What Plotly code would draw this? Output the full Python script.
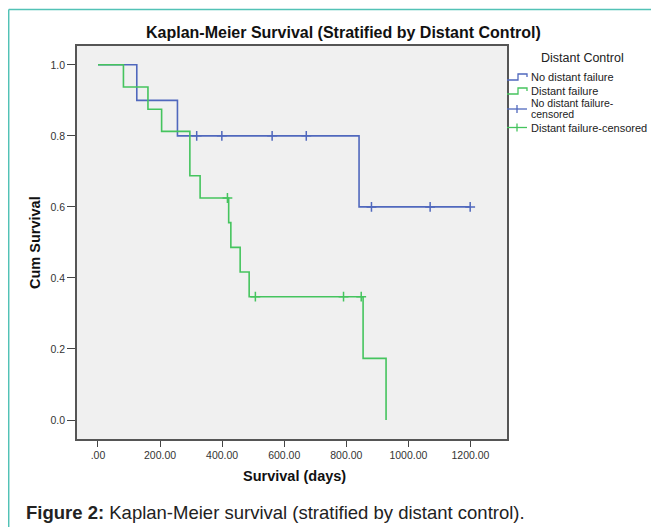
import plotly.graph_objects as go

# ---- data ----
blue_step_days = [0, 125, 256, 841, 1199]
blue_step_surv = [1.0, 0.9, 0.8, 0.6, 0.6]
blue_cens_days = [318, 399, 561, 671, 881, 1070, 1199]
blue_cens_surv = [0.8, 0.8, 0.8, 0.8, 0.6, 0.6, 0.6]

green_step_days = [0, 82, 161, 205, 296, 329, 421, 428, 458, 487, 854, 928]
green_step_surv = [1.0, 0.9375, 0.875, 0.8125, 0.6875, 0.625, 0.5556, 0.4861, 0.4167, 0.3472, 0.1736, 0.0]
green_cens_days = [417, 507, 791, 848]
green_cens_surv = [0.625, 0.3472, 0.3472, 0.3472]

x_tick_vals = [0, 200, 400, 600, 800, 1000, 1200]
x_tick_text = [".00", "200.00", "400.00", "600.00", "800.00", "1000.00", "1200.00"]
y_tick_vals = [0.0, 0.2, 0.4, 0.6, 0.8, 1.0]
y_tick_text = ["0.0", "0.2", "0.4", "0.6", "0.8", "1.0"]

legend_title = "Distant Control"
legend_names = ["No distant failure", "Distant failure", "No distant failure-", "censored",
                "Distant failure-censored"]

BLUE = "#5068bd"
GREEN = "#45c45e"
TEAL = "#52c2b6"
FONT = "Arial, Liberation Sans, sans-serif"

# page pixel -> paper coordinate helpers (plot box on the page)
PL, PR, PT, PB = 77, 507, 46, 439
def px(x):
    return (x - PL) / (PR - PL)
def py(y):
    return (PB - y) / (PB - PT)

fig = go.Figure()
fig.add_trace(go.Scatter(x=blue_step_days, y=blue_step_surv, mode="lines", line_shape="hv",
                         line=dict(color=BLUE, width=1.6), name="No distant failure", showlegend=False))
fig.add_trace(go.Scatter(x=green_step_days, y=green_step_surv, mode="lines", line_shape="hv",
                         line=dict(color=GREEN, width=1.6), name="Distant failure", showlegend=False))
fig.add_trace(go.Scatter(x=blue_cens_days, y=blue_cens_surv, mode="markers", showlegend=False,
                         name="No distant failure-censored",
                         marker=dict(symbol="cross-thin", size=7, line=dict(color=BLUE, width=1.5))))
fig.add_trace(go.Scatter(x=green_cens_days, y=green_cens_surv, mode="markers", showlegend=False,
                         name="Distant failure-censored",
                         marker=dict(symbol="cross-thin", size=7, line=dict(color=GREEN, width=1.5))))

W, H = 651, 519  # page body has an 8px margin
fig.update_layout(
    width=W, height=H,
    margin=dict(l=PL - 8, r=W - (PR - 8), t=PT - 8, b=H - (PB - 8)),
    paper_bgcolor="white", plot_bgcolor="#f0f0f0",
    font=dict(family=FONT, color="#333333", size=10.5),
    showlegend=False,
)
fig.update_xaxes(range=[-67.6, 1317.6], tickvals=x_tick_vals, ticktext=x_tick_text,
                 ticks="outside", ticklen=6, tickcolor="#444", tickwidth=1.3,
                 showgrid=False, zeroline=False, showline=True, linecolor="#555", linewidth=1.5, mirror=True,
                 tickfont=dict(size=10.5, color="#333"))
fig.update_yaxes(range=[-0.0535, 1.053], tickvals=y_tick_vals, ticktext=y_tick_text,
                 ticks="outside", ticklen=8, tickcolor="#444", tickwidth=1.3,
                 showgrid=False, zeroline=False, showline=True, linecolor="#555", linewidth=1.5, mirror=True,
                 tickfont=dict(size=10.5, color="#333"))

def ann(text, x, y, size, xanchor="center", bold=False, color="#222222", textangle=0):
    fig.add_annotation(xref="paper", yref="paper", x=px(x), y=py(y), xanchor=xanchor, yanchor="middle",
                       showarrow=False, text=("<b>%s</b>" % text) if bold else text, textangle=textangle,
                       align="left" if xanchor == "left" else "center", borderpad=0,
                       font=dict(size=size, color=color, family=FONT))

# titles
ann("Kaplan-Meier Survival (Stratified by Distant Control)", 343, 33, 16, bold=True, color="#111111")
ann("Survival (days)", 294, 476, 14.5, bold=True, color="#111111")
ann("Cum Survival", 35, 243, 14.5, bold=True, color="#111111", textangle=-90)

# legend (manual, SPSS style)
ann(legend_title, 582, 58, 12.5)
ann(legend_names[0], 530, 77, 11, xanchor="left")
ann(legend_names[1], 530, 91, 11, xanchor="left")
ann(legend_names[2], 530, 102.5, 10.5, xanchor="left")
ann(legend_names[3], 530, 114, 10.5, xanchor="left")
ann(legend_names[4], 530, 127.5, 11, xanchor="left")

def step_glyph(yc, color):
    pts = [(507, yc + 3), (518, yc + 3), (518, yc - 3), (527, yc - 3), (527, yc)]
    path = "M " + " L ".join("%f,%f" % (px(a), py(b)) for a, b in pts)
    fig.add_shape(type="path", xref="paper", yref="paper", path=path,
                  line=dict(color=color, width=1.3))

def cens_glyph(yc, color):
    fig.add_shape(type="line", xref="paper", yref="paper", x0=px(507), x1=px(527), y0=py(yc), y1=py(yc),
                  line=dict(color=color, width=1.3))
    fig.add_shape(type="line", xref="paper", yref="paper", x0=px(517), x1=px(517), y0=py(yc - 4), y1=py(yc + 4),
                  line=dict(color=color, width=1.3))

step_glyph(77, BLUE)
step_glyph(91, GREEN)
cens_glyph(109, BLUE)
cens_glyph(127.5, GREEN)

# teal frame lines
fig.add_shape(type="line", xref="paper", yref="paper", x0=px(8.7), x1=px(700), y0=py(9.5), y1=py(9.5),
              line=dict(color=TEAL, width=1.5))
fig.add_shape(type="line", xref="paper", yref="paper", x0=px(8.7), x1=px(8.7), y0=py(9.5), y1=py(560),
              line=dict(color=TEAL, width=1.5))

# caption
ann("<b>Figure 2:</b> Kaplan-Meier survival (stratified by distant control).", 25, 512, 18.5,
    xanchor="left")

fig.write_html("out.html")
